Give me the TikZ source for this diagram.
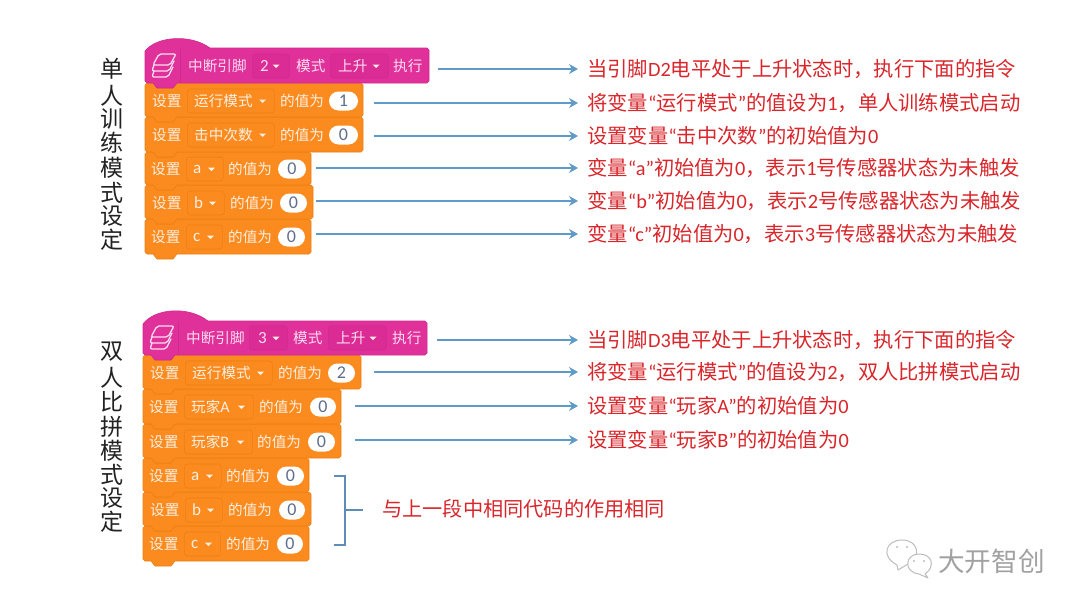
\documentclass[tikz,border=0pt]{standalone}
\usetikzlibrary{arrows.meta}
\usepackage{fontspec}
\setmainfont{Noto Sans CJK SC}
\newfontfamily\lat{Carlito}
\definecolor{blockorange}{HTML}{FB8B1E}
\definecolor{blockedge}{HTML}{EC8014}
\definecolor{blockpink}{HTML}{E0309A}
\definecolor{pinkedge}{HTML}{CF2A8E}
\definecolor{pinkdd}{HTML}{DA2C94}
\definecolor{arrowblue}{HTML}{5F9BC6}
\definecolor{bracketblue}{HTML}{5B8DB8}
\definecolor{notered}{HTML}{D9262B}
\definecolor{labelgrey}{HTML}{222222}
\definecolor{softwhite}{HTML}{FDEFE2}
\definecolor{softpink}{HTML}{FBDDF0}
\definecolor{pillgrey}{HTML}{5F6E8C}
\definecolor{markgrey}{HTML}{BDBDBD}
\tikzset{
  arrowline/.style={draw=arrowblue,line width=1.8pt,-{Stealth[length=9pt,width=10pt,inset=3pt]}},
  noteline/.style={anchor=west,inner xsep=9pt,inner ysep=0pt,text=notered,font=\fontsize{20.3}{22}\selectfont},
  sidelabel/.style={inner sep=0pt,text=labelgrey,font=\fontsize{23}{25}\selectfont},
  blocktext/.style={anchor=west,inner sep=0pt,text=softwhite,font=\fontsize{14.6}{16}\selectfont},
  hattext/.style={blocktext,text=softpink},
  ddbox/.style={anchor=west,inner sep=0pt,draw=blockedge,fill=blockorange,rounded corners=3pt,line width=.6pt,minimum height=24pt},
  hatdd/.style={ddbox,draw=pinkedge,fill=pinkdd},
  pillbox/.style={inner sep=0pt,fill=white,rounded corners=9.5pt,minimum height=19pt,text=pillgrey,font=\fontsize{18}{20}\selectfont},
  blockfill/.style={fill=blockorange,draw=blockedge,line width=.6pt,line join=round},
  hatfill/.style={fill=blockpink,draw=pinkedge,line width=.6pt,line join=round},
  tickmark/.style={fill=softwhite,draw=none},
  layerline/.style={draw=softpink,line width=1.3pt,line join=round,line cap=round,rounded corners=2pt},
  dividerline/.style={draw=pinkedge,line width=.8pt},
  bubble/.style={draw=markgrey,fill=white,line width=1pt,line join=round},
}
% left, top, right, bottom
\newcommand\stackblock[4]{%
  \path[blockfill] (#1+2,#2) -- (#1+8,#2) -- (#1+12,#2+5) -- (#1+28,#2+5) -- (#1+32,#2)
    -- (#3-2,#2) -- (#3,#2+2) -- (#3,#4-2) -- (#3-2,#4) -- (#1+32,#4) -- (#1+28,#4+5)
    -- (#1+12,#4+5) -- (#1+8,#4) -- (#1+2,#4) -- (#1,#4-2) -- (#1,#2+2) -- cycle;}
% left, top of body, right, bottom, dome top
\newcommand\hatblock[5]{%
  \path[hatfill] (#1,#2+3) .. controls (#1+12,#5-1) and (#1+46,#5-3) .. (#1+65,#2)
    -- (#3-2,#2) -- (#3,#2+2) -- (#3,#4-2) -- (#3-2,#4) -- (#1+32,#4) -- (#1+28,#4+5)
    -- (#1+12,#4+5) -- (#1+8,#4) -- (#1+2,#4) -- (#1,#4-2) -- cycle;
  \draw[dividerline] (#1+35,#2+1) -- (#1+35,#4-1);}
\newcommand\tick[2]{\path[tickmark] (#1-3.5,#2-1.5) -- (#1+3.5,#2-1.5) -- (#1,#2+2) -- cycle;}
% prefix, y, dd left, dd right, label, value-text x, pill left, pill right, value
\newcommand\setrow[9]{%
  \node[blocktext] (#1set) at (#3-35,#2) {设置};
  \node[ddbox,minimum width=#4pt-#3pt] (#1dd) at (#3,#2) {};
  \node[blocktext] (#1var) at (#3+7,#2) {#5};
  \tick{#4-11.5}{#2}
  \node[blocktext] (#1of) at (#6,#2) {的值为};
  \node[pillbox,minimum width=#8pt-#7pt] (#1pill) at ({(#7+#8)/2},#2) {\lat #9};}
\newcommand\layers[2]{%
  \draw[layerline] (#1+7,#2-12) -- (#1+24,#2-12) -- (#1+18,#2-1) -- (#1+1,#2-1) -- cycle;
  \draw[layerline] (#1+2,#2-1) -- (#1,#2+5) -- (#1+17,#2+5) -- (#1+22,#2-5);
  \draw[layerline] (#1+2,#2+5) -- (#1,#2+11) -- (#1+16,#2+11) -- (#1+21,#2+1);}
\begin{document}
\begin{tikzpicture}[x=1pt,y=-1pt]
\useasboundingbox[fill=white] (0,0) rectangle (1080,608);

% ---------- upper stack
\stackblock{145}{219}{311}{254}
\stackblock{145}{185}{313}{219}
\stackblock{145}{152}{311}{185}
\stackblock{145}{117}{363}{152}
\stackblock{145}{83}{363}{117}
\hatblock{145}{48}{429}{83}{37}
\layers{152}{66}
\node[hattext] (h1a) at (188,66) {中断引脚};
\node[hatdd,minimum width=37pt] (h1b) at (252,66) {};
\node[hattext] (h1c) at (260,66) {\lat\fontsize{17}{18}\selectfont 2};
\tick{276}{66}
\node[hattext] (h1d) at (296,66) {模式};
\node[hatdd,minimum width=58pt] (h1e) at (330,66) {};
\node[hattext] (h1f) at (338,66) {上升};
\tick{376}{66}
\node[hattext] (h1g) at (393,66) {执行};
\setrow{r1}{101}{187}{274}{运行模式}{280}{329}{358}{1}
\setrow{r2}{135}{187}{274}{击中次数}{280}{329}{358}{0}
\setrow{r3}{169}{186}{223}{\lat\fontsize{17}{18}\selectfont a}{228}{278}{306}{0}
\setrow{r4}{203}{187}{224}{\lat\fontsize{17}{18}\selectfont b}{230}{280}{307}{0}
\setrow{r5}{237}{186}{222}{\lat\fontsize{17}{18}\selectfont c}{228}{278}{305}{0}

% ---------- lower stack
\stackblock{143}{526}{309}{561}
\stackblock{143}{492}{311}{526}
\stackblock{143}{458}{309}{492}
\stackblock{143}{424}{341}{458}
\stackblock{143}{389}{341}{424}
\stackblock{143}{355}{361}{389}
\hatblock{143}{321}{427}{355}{309}
\layers{150}{338}
\node[hattext] (h2a) at (186,338) {中断引脚};
\node[hatdd,minimum width=38pt] (h2b) at (249,338) {};
\node[hattext] (h2c) at (258,338) {\lat\fontsize{17}{18}\selectfont 3};
\tick{276}{338}
\node[hattext] (h2d) at (293,338) {模式};
\node[hatdd,minimum width=58pt] (h2e) at (328,338) {};
\node[hattext] (h2f) at (336,338) {上升};
\tick{373}{338}
\node[hattext] (h2g) at (392,338) {执行};
\setrow{s1}{373}{185}{272}{运行模式}{278}{328}{355}{2}
\setrow{s2}{407}{184}{253}{玩家{\lat\fontsize{16}{18}\selectfont A}}{259}{310}{336}{0}
\setrow{s3}{442}{184}{252}{玩家{\lat\fontsize{16}{18}\selectfont B}}{257}{308}{335}{0}
\setrow{s4}{476}{184}{221}{\lat\fontsize{17}{18}\selectfont a}{226}{277}{304}{0}
\setrow{s5}{510}{185}{222}{\lat\fontsize{17}{18}\selectfont b}{228}{279}{305}{0}
\setrow{s6}{544}{184}{220}{\lat\fontsize{17}{18}\selectfont c}{226}{277}{303}{0}

% ---------- side labels
\node[sidelabel] (u1) at (112,69) {单};
\node[sidelabel] (u2) at (112,96) {人};
\node[sidelabel] (u3) at (112,119) {训};
\node[sidelabel] (u4) at (112,143) {练};
\node[sidelabel] (u5) at (112,168) {模};
\node[sidelabel] (u6) at (112,193) {式};
\node[sidelabel] (u7) at (112,216) {设};
\node[sidelabel] (u8) at (112,240) {定};
\node[sidelabel] (v1) at (112,352) {双};
\node[sidelabel] (v2) at (112,378) {人};
\node[sidelabel] (v3) at (112,402) {比};
\node[sidelabel] (v4) at (112,427) {拼};
\node[sidelabel] (v5) at (112,451) {模};
\node[sidelabel] (v6) at (112,475) {式};
\node[sidelabel] (v7) at (112,498) {设};
\node[sidelabel] (v8) at (112,522) {定};

% ---------- notes
\node[noteline] (t1) at (578,69) {当引脚{\lat D2}电平处于上升状态时，执行下面的指令};
\node[noteline] (t2) at (578,103) {将变量{\lat “}运行模式{\lat ”}的值设为{\lat 1}，单人训练模式启动};
\node[noteline] (t3) at (578,136) {设置变量{\lat “}击中次数{\lat ”}的初始值为{\lat 0}};
\node[noteline] (t4) at (578,168) {变量{\lat “a”}初始值为{\lat 0}，表示{\lat 1}号传感器状态为未触发};
\node[noteline] (t5) at (578,201) {变量{\lat “b”}初始值为{\lat 0}，表示{\lat 2}号传感器状态为未触发};
\node[noteline] (t6) at (578,234) {变量{\lat “c”}初始值为{\lat 0}，表示{\lat 3}号传感器状态为未触发};
\node[noteline] (t7) at (578,340) {当引脚{\lat D3}电平处于上升状态时，执行下面的指令};
\node[noteline] (t8) at (578,372) {将变量{\lat “}运行模式{\lat ”}的值设为{\lat 2}，双人比拼模式启动};
\node[noteline] (t9) at (578,406) {设置变量{\lat “}玩家{\lat A”}的初始值为{\lat 0}};
\node[noteline] (t10) at (578,440) {设置变量{\lat “}玩家{\lat B”}的初始值为{\lat 0}};
\node[noteline,font=\fontsize{20.2}{22}\selectfont,inner xsep=0pt] (t11) at (382,509) {与上一段中相同代码的作用相同};

% ---------- connector starts
\coordinate (a1) at (438,69);
\coordinate (a2) at (374,103);
\coordinate (a3) at (374,136);
\coordinate (a4) at (316,168);
\coordinate (a5) at (316,201);
\coordinate (a6) at (316,234);
\coordinate (a7) at (437,340);
\coordinate (a8) at (374,372);
\coordinate (a9) at (355,406);
\coordinate (a10) at (355,440);
\foreach \i in {1,...,10}{\draw[arrowline] (a\i) -- (t\i.west);}

% ---------- bracket
\coordinate (bt) at (334,476);
\coordinate (bb) at (334,545);
\coordinate (bs) at (345,510);
\coordinate (be) at (363,510);
\draw[draw=bracketblue,line width=1.6pt] (bt) -- (345,476) -- (345,545) -- (bb);
\draw[draw=bracketblue,line width=1.6pt] (bs) -- (be);

% ---------- watermark
\path[bubble] (897,565) .. controls (880,556) and (886,540) .. (902,540)
  .. controls (918,540) and (922,556) .. (908,564) -- (898,570) -- cycle;
\path[bubble] (925,574) .. controls (936,566) and (932,554) .. (919,554)
  .. controls (905,554) and (903,572) .. (919,574) -- (928,578) -- cycle;
\fill[markgrey] (897,547) circle (1.2) (907,547) circle (1.2) (914,561) circle (1.2) (924,561) circle (1.2);
\node[anchor=west,inner sep=0pt,text=markgrey!85!black,font=\fontsize{26.6}{28}\selectfont] (wm) at (938,561) {大开智创};
\end{tikzpicture}
\end{document}
